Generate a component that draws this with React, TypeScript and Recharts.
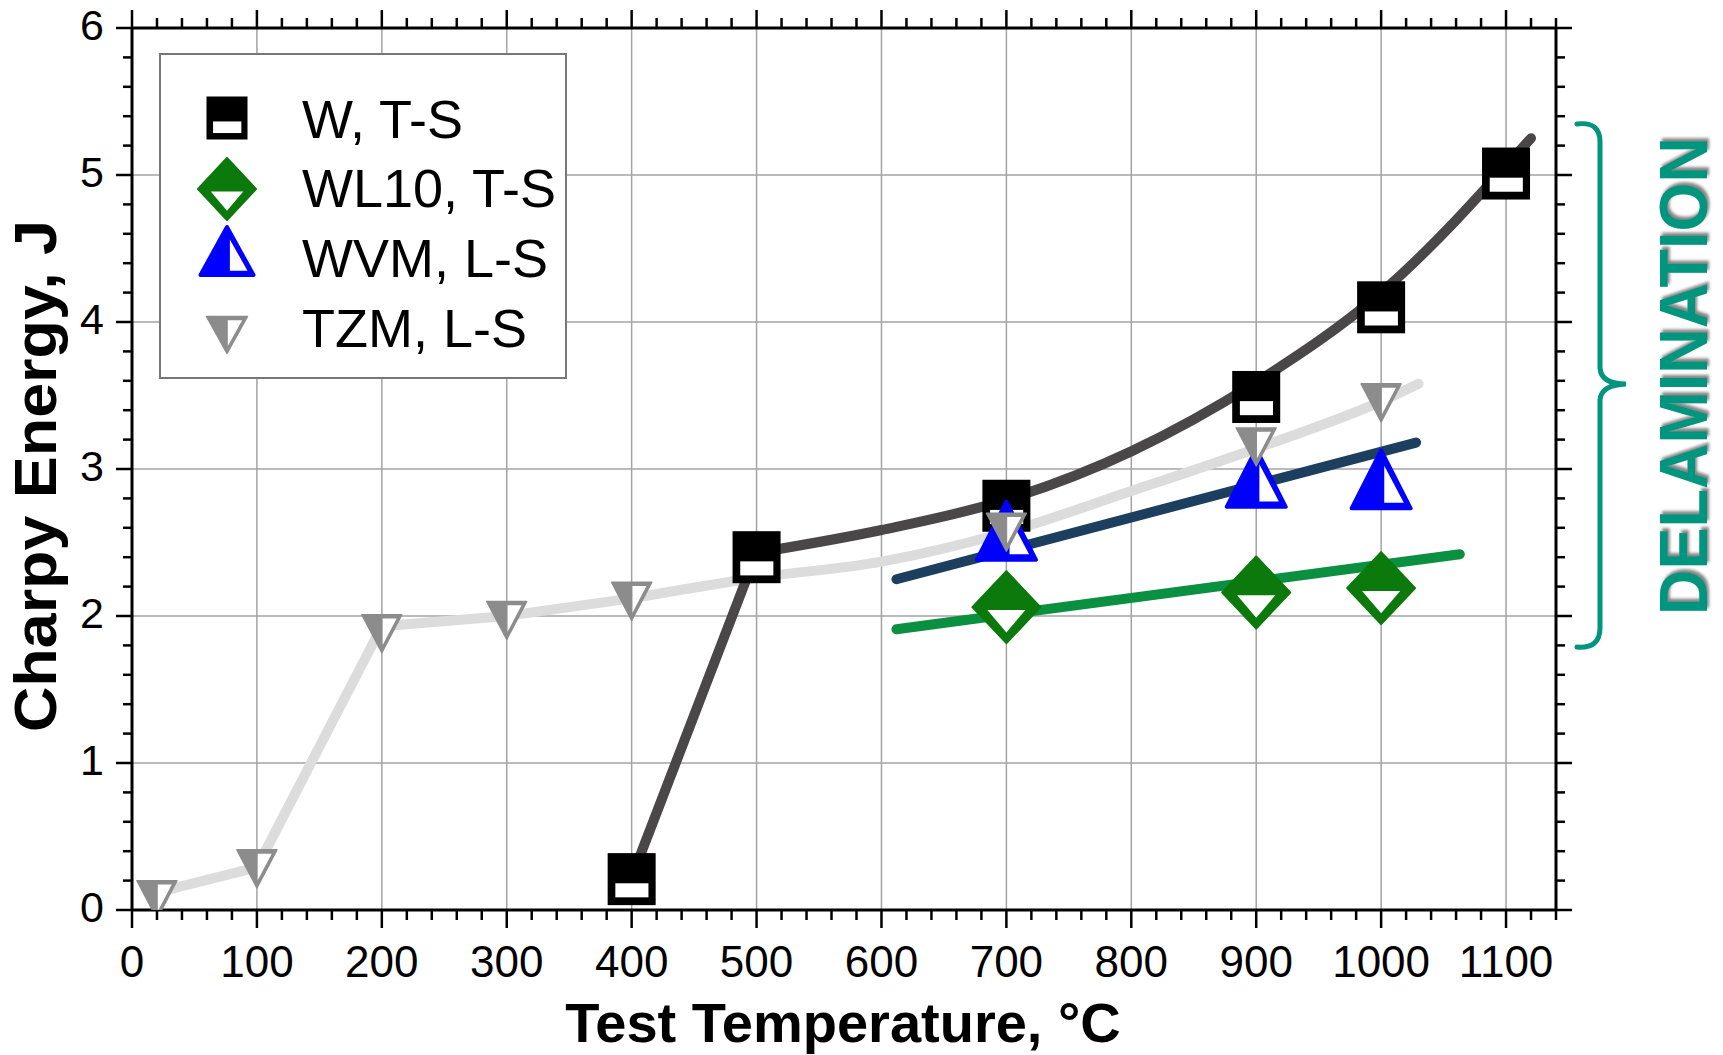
import React from 'react';
import { ComposedChart, Line, Scatter, XAxis, YAxis, ReferenceLine, Legend } from 'recharts';

const FONT = '"Liberation Sans", Arial, Helvetica, sans-serif';

// axes
const xMajor = [0, 100, 200, 300, 400, 500, 600, 700, 800, 900, 1000, 1100];
const yMajor = [0, 1, 2, 3, 4, 5, 6];
const xTicks = Array.from({ length: 58 }, (_, i) => i * 20);
const yTicks = Array.from({ length: 31 }, (_, i) => (i * 2) / 10);

// measured points
const wPoints = [
  { x: 400, y: 0.21 },
  { x: 500, y: 2.4 },
  { x: 700, y: 2.75 },
  { x: 900, y: 3.49 },
  { x: 1000, y: 4.1 },
  { x: 1100, y: 5.01 },
];
const wl10Points = [
  { x: 700, y: 2.06 },
  { x: 900, y: 2.16 },
  { x: 1000, y: 2.19 },
];
const wvmPoints = [
  { x: 700, y: 2.58 },
  { x: 900, y: 2.94 },
  { x: 1000, y: 2.93 },
];
const tzmPoints = [
  { x: 20, y: 0.07 },
  { x: 100, y: 0.28 },
  { x: 200, y: 1.88 },
  { x: 300, y: 1.97 },
  { x: 400, y: 2.1 },
  { x: 700, y: 2.57 },
  { x: 900, y: 3.15 },
  { x: 1000, y: 3.45 },
];

// trend lines
const wJump = [
  { x: 400, y: 0.22 },
  { x: 500, y: 2.43 },
];
const wCurve = [
  { x: 500, y: 2.43 },
  { x: 600, y: 2.585 },
  { x: 700, y: 2.79 },
  { x: 800, y: 3.12 },
  { x: 900, y: 3.59 },
  { x: 1000, y: 4.2 },
  { x: 1120, y: 5.25 },
];
const tzmSegments = [
  { x: 20, y: 0.12 },
  { x: 100, y: 0.29 },
  { x: 200, y: 1.93 },
  { x: 300, y: 2.0 },
  { x: 400, y: 2.12 },
];
const tzmCurve = [
  { x: 400, y: 2.12 },
  { x: 500, y: 2.26 },
  { x: 600, y: 2.37 },
  { x: 700, y: 2.57 },
  { x: 800, y: 2.85 },
  { x: 900, y: 3.14 },
  { x: 1000, y: 3.46 },
  { x: 1030, y: 3.58 },
];
const wvmFit = [
  { x: 612, y: 2.25 },
  { x: 1028, y: 3.18 },
];
const wl10Fit = [
  { x: 612, y: 1.91 },
  { x: 1063, y: 2.42 },
];

const legendItems = [
  { kind: 'w', label: 'W, T-S' },
  { kind: 'wl10', label: 'WL10, T-S' },
  { kind: 'wvm', label: 'WVM, L-S' },
  { kind: 'tzm', label: 'TZM, L-S' },
];

const GREEN = '#0b790b';
const BLUE = '#0000ff';
const GRAY = '#8c8c8c';

function Marker({ kind, cx, cy, w, h }: any) {
  if (kind === 'w') {
    return (
      <g>
        <rect x={cx - w / 2} y={cy - h / 2} width={w} height={h} fill="#000" />
        <rect x={cx - w / 2 + 0.16 * w} y={cy - h / 2 + 0.58 * h} width={0.69 * w} height={0.27 * h} fill="#fff" />
      </g>
    );
  }
  if (kind === 'wl10') {
    const outer = `${cx},${cy - h / 2} ${cx + w / 2},${cy} ${cx},${cy + h / 2} ${cx - w / 2},${cy}`;
    const inner = `${cx - 0.28 * w},${cy + 0.04 * h} ${cx + 0.28 * w},${cy + 0.04 * h} ${cx},${cy + 0.35 * h}`;
    return (
      <g>
        <polygon points={outer} fill={GREEN} stroke={GREEN} strokeWidth={2} strokeLinejoin="round" />
        <polygon points={inner} fill="#fff" />
      </g>
    );
  }
  if (kind === 'wvm') {
    const outer = `${cx},${cy - h / 2 + 2} ${cx + w / 2 - 2},${cy + h / 2 - 2} ${cx - w / 2 + 2},${cy + h / 2 - 2}`;
    const inner = `${cx + 0.05 * w},${cy - 0.22 * h} ${cx + 0.05 * w},${cy + 0.38 * h} ${cx + 0.36 * w},${cy + 0.38 * h}`;
    return (
      <g>
        <polygon points={outer} fill={BLUE} stroke={BLUE} strokeWidth={4} strokeLinejoin="round" />
        <polygon points={inner} fill="#fff" />
      </g>
    );
  }
  const outer = `${cx - w / 2},${cy - h / 2} ${cx + w / 2},${cy - h / 2} ${cx},${cy + h / 2}`;
  const inner = `${cx + 0.02 * w},${cy - 0.4 * h} ${cx + 0.37 * w},${cy - 0.4 * h} ${cx + 0.02 * w},${cy + 0.3 * h}`;
  return (
    <g>
      <polygon points={outer} fill={GRAY} stroke={GRAY} strokeWidth={1.5} strokeLinejoin="round" />
      <polygon points={inner} fill="#fff" />
    </g>
  );
}

const isMajorX = (v: number) => v % 100 === 0;
const isMajorY = (v: number) => Number.isInteger(v);

function BottomTick({ x, y, payload }: any) {
  const major = isMajorX(payload.value);
  return (
    <g>
      <line x1={x} x2={x} y1={y} y2={y + (major ? 18 : 10)} stroke="#000" strokeWidth={2.5} />
      {major && (
        <text x={x} y={y + 67} textAnchor="middle" fontSize={44} fontFamily={FONT} fill="#000">
          {payload.value}
        </text>
      )}
    </g>
  );
}

function TopTick({ x, y, payload }: any) {
  const major = isMajorX(payload.value);
  return <line x1={x} x2={x} y1={y} y2={y - (major ? 18 : 10)} stroke="#000" strokeWidth={2.5} />;
}

function LeftTick({ x, y, payload }: any) {
  const major = isMajorY(payload.value);
  return (
    <g>
      <line x1={x} x2={x - (major ? 16 : 9)} y1={y} y2={y} stroke="#000" strokeWidth={2.5} />
      {major && (
        <text x={x - 28} y={y + 12} textAnchor="end" fontSize={43} fontFamily={FONT} fill="#000">
          {payload.value}
        </text>
      )}
    </g>
  );
}

function RightTick({ x, y, payload }: any) {
  const major = isMajorY(payload.value);
  return <line x1={x} x2={x + (major ? 16 : 9)} y1={y} y2={y} stroke="#000" strokeWidth={2.5} />;
}

function LegendBox() {
  const rowMarkers = [
    { w: 41, h: 43, cy: 63 },
    { w: 58, h: 62, cy: 134 },
    { w: 57, h: 52, cy: 196 },
    { w: 41, h: 37, cy: 280 },
  ];
  const baselines = [83, 152, 222, 292];
  return (
    <div style={{ width: 408, height: 326, border: '2px solid #777', background: '#fff', boxSizing: 'border-box' }}>
      <svg width={404} height={322}>
        {legendItems.map((item, i) => (
          <g key={item.kind}>
            <Marker kind={item.kind} cx={66} cy={rowMarkers[i].cy} w={rowMarkers[i].w} h={rowMarkers[i].h} />
            <text x={141} y={baselines[i]} fontSize={54} fontFamily={FONT} fill="#000">
              {item.label}
            </text>
          </g>
        ))}
      </svg>
    </div>
  );
}

const xTitle = () => (
  <text x={843} y={1042} textAnchor="middle" fontSize={56} fontWeight="bold" fontFamily={FONT} fill="#000">
    Test Temperature, °C
  </text>
);

const yTitle = () => (
  <text
    x={56}
    y={476}
    transform="rotate(-90 56 476)"
    textAnchor="middle"
    fontSize={60}
    fontWeight="bold"
    fontFamily={FONT}
    fill="#000"
    textLength={512}
    lengthAdjust="spacingAndGlyphs"
  >
    Charpy Energy, J
  </text>
);

export default function App() {
  const lineProps = {
    dot: false,
    activeDot: false,
    isAnimationActive: false,
    strokeWidth: 10,
    strokeLinecap: 'round' as const,
    strokeLinejoin: 'round' as const,
    dataKey: 'y',
  };
  return (
    <div style={{ position: 'absolute', left: 0, top: 0, width: 1723, height: 1055, background: '#fff' }}>
      <ComposedChart width={1723} height={1055} margin={{ top: 8, right: 147, bottom: 85, left: 72 }}>
        <XAxis
          type="number"
          dataKey="x"
          domain={[0, 1140]}
          ticks={xTicks}
          interval={0}
          height={60}
          tickSize={0}
          tickMargin={0}
          tickLine={false}
          tick={<BottomTick />}
          axisLine={{ stroke: '#000', strokeWidth: 3 }}
          label={xTitle}
          allowDataOverflow
        />
        <XAxis
          xAxisId="top"
          orientation="top"
          type="number"
          dataKey="x"
          domain={[0, 1140]}
          ticks={xTicks}
          interval={0}
          height={20}
          tickSize={0}
          tickMargin={0}
          tickLine={false}
          tick={<TopTick />}
          axisLine={{ stroke: '#000', strokeWidth: 3 }}
          allowDataOverflow
        />
        <YAxis
          type="number"
          domain={[0, 6]}
          ticks={yTicks}
          interval={0}
          width={60}
          tickSize={0}
          tickMargin={0}
          tickLine={false}
          tick={<LeftTick />}
          axisLine={{ stroke: '#000', strokeWidth: 3 }}
          label={yTitle}
          allowDataOverflow
        />
        <YAxis
          yAxisId="right"
          orientation="right"
          type="number"
          domain={[0, 6]}
          ticks={yTicks}
          interval={0}
          width={20}
          tickSize={0}
          tickMargin={0}
          tickLine={false}
          tick={<RightTick />}
          axisLine={{ stroke: '#000', strokeWidth: 3 }}
          allowDataOverflow
        />

        {xMajor.slice(1).map((v) => (
          <ReferenceLine key={`gx${v}`} x={v} stroke="#a3a3a3" strokeWidth={1.5} />
        ))}
        {yMajor.slice(1, 6).map((v) => (
          <ReferenceLine key={`gy${v}`} y={v} stroke="#a3a3a3" strokeWidth={1.5} />
        ))}

        <Line data={tzmSegments} type="linear" stroke="#dcdcdc" {...lineProps} />
        <Line data={tzmCurve} type="monotone" stroke="#dcdcdc" {...lineProps} />
        <Line data={wJump} type="linear" stroke="#4a4748" {...lineProps} />
        <Line data={wCurve} type="monotone" stroke="#4a4748" {...lineProps} />
        <Line data={wvmFit} type="linear" stroke="#1c3f60" {...lineProps} />
        <Line data={wl10Fit} type="linear" stroke="#0a9040" {...lineProps} />

        <Scatter name="W, T-S" data={wPoints} dataKey="y" isAnimationActive={false}
          shape={(p: any) => <Marker kind="w" cx={p.cx} cy={p.cy} w={48} h={52} />} />
        <Scatter name="WL10, T-S" data={wl10Points} dataKey="y" isAnimationActive={false}
          shape={(p: any) => <Marker kind="wl10" cx={p.cx} cy={p.cy} w={68} h={72} />} />
        <Scatter name="WVM, L-S" data={wvmPoints} dataKey="y" isAnimationActive={false}
          shape={(p: any) => <Marker kind="wvm" cx={p.cx} cy={p.cy} w={63} h={62} />} />
        <Scatter name="TZM, L-S" data={tzmPoints} dataKey="y" isAnimationActive={false}
          shape={(p: any) => <Marker kind="tzm" cx={p.cx} cy={p.cy} w={40} h={38} />} />

        <Legend
          layout="vertical"
          align="center"
          verticalAlign="middle"
          content={() => <LegendBox />}
          wrapperStyle={{ left: 159, top: 53, width: 408, height: 326 }}
        />
      </ComposedChart>

      <svg width={1723} height={1055} style={{ position: 'absolute', left: 0, top: 0, pointerEvents: 'none' }}>
        <defs>
          <filter id="shadow" x="-20%" y="-20%" width="140%" height="140%">
            <feDropShadow dx={3} dy={2} stdDeviation={1.5} floodColor="#777" floodOpacity={0.9} />
          </filter>
        </defs>
        <path
          d="M1577,124 Q1600,121 1600,142 L1600,368 Q1601,384 1626,384 Q1601,385 1600,400 L1600,628 Q1600,649 1577,647"
          fill="none"
          stroke="#00957f"
          strokeWidth={5}
          strokeLinecap="round"
        />
        <text
          x={1707}
          y={376}
          transform="rotate(-90 1707 376)"
          textAnchor="middle"
          fontSize={68}
          fontWeight="bold"
          fontFamily={FONT}
          fill="#00957f"
          textLength={478}
          lengthAdjust="spacingAndGlyphs"
          filter="url(#shadow)"
        >
          DELAMINATION
        </text>
      </svg>
    </div>
  );
}
